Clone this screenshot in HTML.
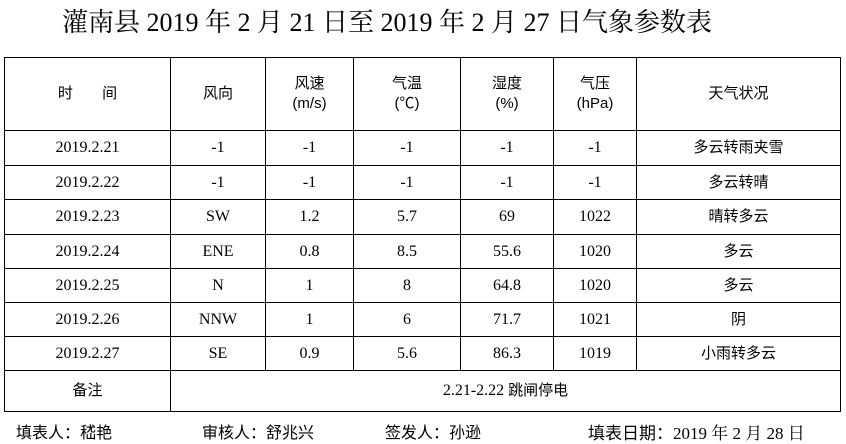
<!DOCTYPE html>
<html><head><meta charset="utf-8"><style>
body{margin:0;width:846px;height:442px;background:#fff;position:relative;overflow:hidden;font-family:"Liberation Serif","Noto Serif CJK SC",serif;color:#000}
.t{position:absolute;left:62px;top:2px;font-size:26px;white-space:nowrap}
table{position:absolute;left:4px;top:57px;border-collapse:collapse;table-layout:fixed;font-size:16px}
td{border:1px solid #000;text-align:center;padding:0;line-height:20px}
.f{position:absolute;top:419px;font-size:16px;white-space:nowrap}
.s{font-family:"Liberation Sans","Noto Sans CJK SC",sans-serif;font-size:15px}
</style></head><body>
<div class="t">灌南县 2019 年 2 月 21 日至 2019 年 2 月 27 日气象参数表</div>
<table>
<colgroup><col style="width:166px"><col style="width:95px"><col style="width:88px"><col style="width:107px"><col style="width:93px"><col style="width:83px"><col style="width:204px"></colgroup>
<tr style="height:73px"><td class="s">时&nbsp;&nbsp;&nbsp;&nbsp;&nbsp;&nbsp;&nbsp;间</td><td class="s">风向</td><td class="s">风速<br>(m/s)</td><td class="s">气温<br>(℃)</td><td class="s">湿度<br>(%)</td><td class="s">气压<br>(hPa)</td><td class="s">天气状况</td></tr>
<tr style="height:35px"><td>2019.2.21</td><td>-1</td><td>-1</td><td>-1</td><td>-1</td><td>-1</td><td class="s">多云转雨夹雪</td></tr>
<tr style="height:34px"><td>2019.2.22</td><td>-1</td><td>-1</td><td>-1</td><td>-1</td><td>-1</td><td class="s">多云转晴</td></tr>
<tr style="height:35px"><td>2019.2.23</td><td>SW</td><td>1.2</td><td>5.7</td><td>69</td><td>1022</td><td class="s">晴转多云</td></tr>
<tr style="height:34px"><td>2019.2.24</td><td>ENE</td><td>0.8</td><td>8.5</td><td>55.6</td><td>1020</td><td class="s">多云</td></tr>
<tr style="height:34px"><td>2019.2.25</td><td>N</td><td>1</td><td>8</td><td>64.8</td><td>1020</td><td class="s">多云</td></tr>
<tr style="height:34px"><td>2019.2.26</td><td>NNW</td><td>1</td><td>6</td><td>71.7</td><td>1021</td><td class="s">阴</td></tr>
<tr style="height:34px"><td>2019.2.27</td><td>SE</td><td>0.9</td><td>5.6</td><td>86.3</td><td>1019</td><td class="s">小雨转多云</td></tr>
<tr style="height:41px"><td class="s">备注</td><td colspan="6">2.21-2.22 <span class="s">跳闸停电</span></td></tr>
</table>
<div class="f s" style="left:16px;font-size:16px">填表人：嵇艳</div>
<div class="f s" style="left:202px;font-size:16px">审核人：舒兆兴</div>
<div class="f s" style="left:385px;font-size:16px">签发人：孙逊</div>
<div class="f" style="left:588px;font-size:17px"><span class="s" style="font-size:17px">填表日期：</span>2019 年 2 月 28 日</div>
</body></html>
